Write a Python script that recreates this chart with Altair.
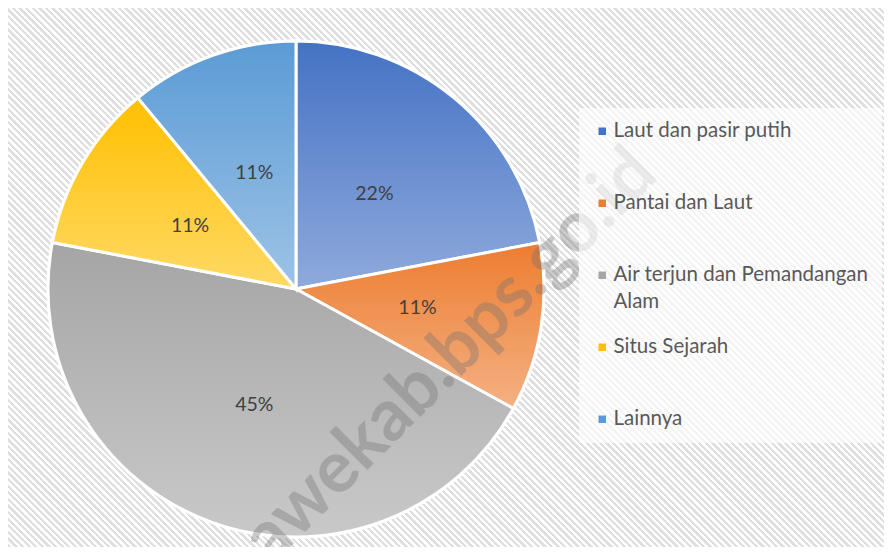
import math
import altair as alt
import pandas as pd

# ---- data ----
categories = [
    "Laut dan pasir putih",
    "Pantai dan Laut",
    "Air terjun dan Pemandangan Alam",
    "Situs Sejarah",
    "Lainnya",
]
values = [22, 11, 45, 11, 11]
top_colors = ["#4472C4", "#ED7D31", "#A5A5A5", "#FFC000", "#5B9BD5"]
bottom_colors = ["#8FAADC", "#F4B183", "#C9C9C9", "#FFD966", "#9DC3E6"]
watermark = ["konawekab.bps.go.id"]

# ---- layout (styles / positions) ----
W, H = 876, 539
CX, CY = 288, 281
R = 248
total = sum(values)

df = pd.DataFrame({"category": categories, "value": values, "order": list(range(len(categories)))})

base = (
    alt.Chart(df)
    .transform_window(end="sum(value)", frame=[None, 0], sort=[alt.SortField("order")])
    .transform_calculate(
        start="datum.end - datum.value",
        mid="datum.end - datum.value / 2",
        label="datum.value + '%'",
    )
)
theta_scale = alt.Scale(domain=[0, total])

# ---- hatched background: striped linear gradient on a square rect, clipped ----
S = W
grad_len = S * math.sqrt(2)
perp_period = 6.6 / math.sqrt(2)
n = int(round(grad_len / perp_period))
stripe = "#dfdfdf"
stops = []
for k in range(n):
    a = k / n
    m = (k + 0.5) / n
    b = (k + 1) / n
    stops += [
        alt.GradientStop(offset=a, color=stripe),
        alt.GradientStop(offset=m, color=stripe),
        alt.GradientStop(offset=m, color="#ffffff"),
        alt.GradientStop(offset=b, color="#ffffff"),
    ]
hatch = alt.Gradient(gradient="linear", stops=stops, x1=0, y1=1, x2=1, y2=0)

bg = alt.Chart(pd.DataFrame({"bg": [0]})).mark_rect(fill=hatch, clip=True).encode(
    x=alt.value(0), x2=alt.value(S), y=alt.value(0), y2=alt.value(S)
)

# solid layer (drives the legend)
solid = base.mark_arc(outerRadius=R, stroke="white", strokeWidth=3).encode(
    theta=alt.Theta("start:Q", scale=theta_scale),
    theta2="end:Q",
    x=alt.value(CX),
    y=alt.value(CY),
    color=alt.Color(
        "category:N",
        scale=alt.Scale(domain=categories, range=top_colors),
        sort=categories,
        legend=alt.Legend(
            title=None,
            orient="none",
            legendX=571,
            legendY=100,
            direction="vertical",
            symbolType="square",
            symbolSize=56,
            symbolStrokeWidth=0,
            labelFont="Lato",
            labelFontSize=20.5,
            labelColor="#595959",
            labelOffset=1,
            labelLimit=400,
            labelExpr="datum.label == 'Air terjun dan Pemandangan Alam' ? ['Air terjun dan Pemandangan', 'Alam'] : datum.label",
            fillColor="rgba(255,255,255,0.65)",
            padding=13,
            rowPadding=24,
            gridAlign="all",
        ),
    ),
)

# gradient slices
grad_layers = []
for cat, c0, c1 in zip(categories, top_colors, bottom_colors):
    g = alt.Gradient(
        gradient="linear",
        stops=[alt.GradientStop(offset=0, color=c0), alt.GradientStop(offset=1, color=c1)],
        x1=0, y1=0, x2=0, y2=1,
    )
    grad_layers.append(
        base.transform_filter(alt.datum.category == cat)
        .mark_arc(outerRadius=R, stroke="white", strokeWidth=3, fill=g)
        .encode(
            theta=alt.Theta("start:Q", scale=theta_scale),
            theta2="end:Q",
            x=alt.value(CX),
            y=alt.value(CY),
        )
    )

labels = base.mark_text(radius=123, font="Lato", fontSize=19.5, color="#404040").encode(
    theta=alt.Theta("mid:Q", scale=theta_scale, stack=False),
    x=alt.value(CX),
    y=alt.value(CY),
    text="label:N",
)

wm = alt.Chart(pd.DataFrame({"t": watermark})).mark_text(
    angle=315, font="Lato", fontWeight="bold", fontSize=72, color="#707070", opacity=0.35,
    align="center", baseline="middle",
).encode(x=alt.value(400), y=alt.value(390), text="t:N")

chart = (
    alt.layer(bg, solid, *grad_layers, labels, wm)
    .properties(width=W, height=H, autosize=alt.AutoSizeParams(type="none"), padding=0)
    .configure_view(stroke=None)
    .configure(style={"guide-label": {"lineHeight": 27}})
)

chart.save("out.html", embed_options={"renderer": "svg", "actions": False})
